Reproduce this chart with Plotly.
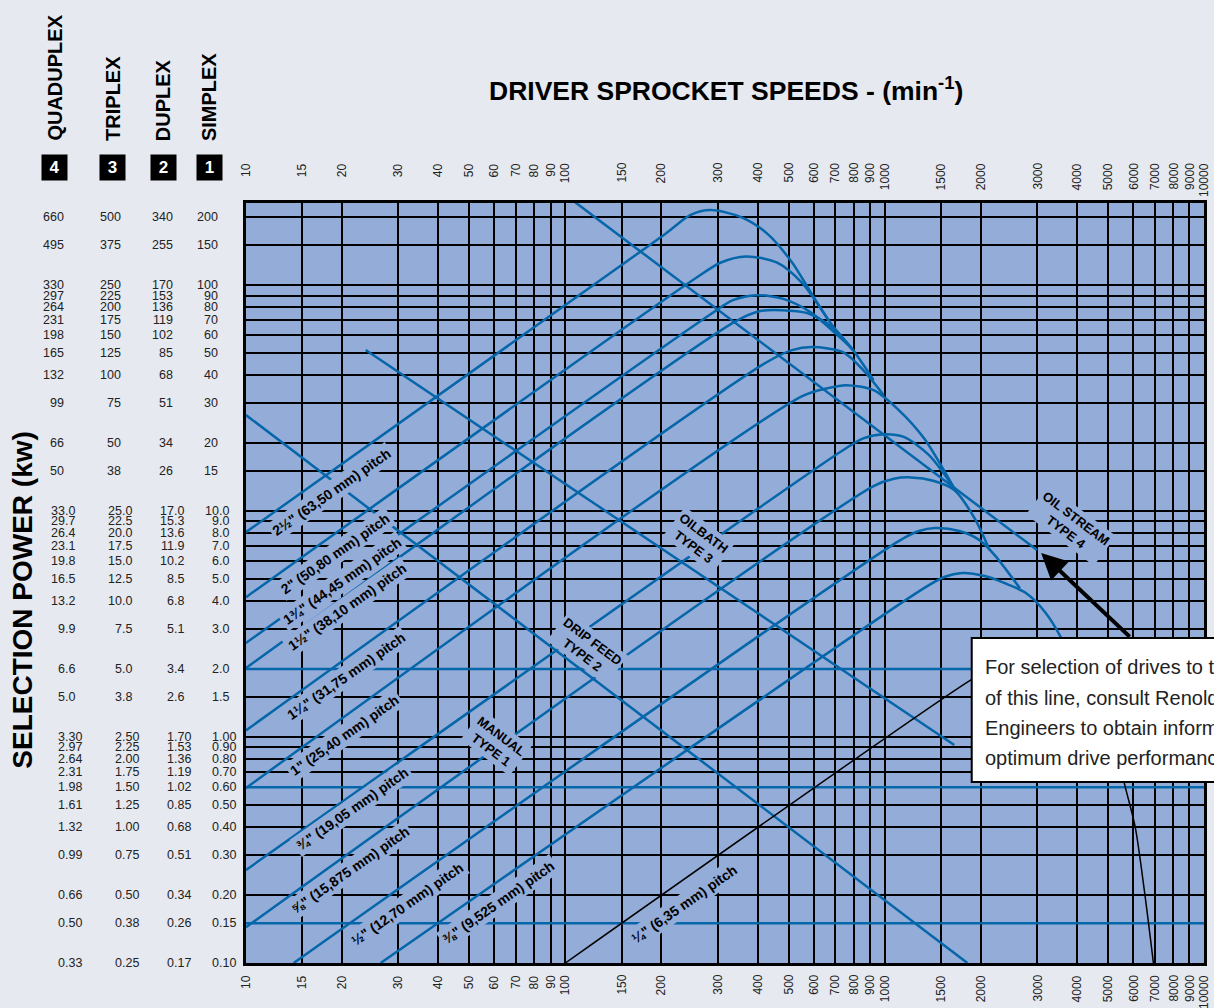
import math
import plotly.graph_objects as go

# ---- values ----
speed_ticks = [10, 15, 20, 30, 40, 50, 60, 70, 80, 90,
               100, 150, 200, 300, 400, 500, 600, 700, 800, 900,
               1000, 1500, 2000, 3000, 4000, 5000, 6000, 7000, 8000, 9000, 10000]
power_ticks = [200, 150, 100, 90, 80, 70, 60, 50, 40, 30, 20, 15, 10, 9, 8, 7, 6, 5, 4, 3, 2, 1.5,
               1, 0.9, 0.8, 0.7, 0.6, 0.5, 0.4, 0.3, 0.2, 0.15, 0.1]

simplex_lbl = ["200", "150", "100", "90", "80", "70", "60", "50", "40", "30", "20", "15",
               "10.0", "9.0", "8.0", "7.0", "6.0", "5.0", "4.0", "3.0", "2.0", "1.5",
               "1.00", "0.90", "0.80", "0.70", "0.60", "0.50", "0.40", "0.30", "0.20", "0.15", "0.10"]
duplex_lbl = ["340", "255", "170", "153", "136", "119", "102", "85", "68", "51", "34", "26",
              "17.0", "15.3", "13.6", "11.9", "10.2", "8.5", "6.8", "5.1", "3.4", "2.6",
              "1.70", "1.53", "1.36", "1.19", "1.02", "0.85", "0.68", "0.51", "0.34", "0.26", "0.17"]
triplex_lbl = ["500", "375", "250", "225", "200", "175", "150", "125", "100", "75", "50", "38",
               "25.0", "22.5", "20.0", "17.5", "15.0", "12.5", "10.0", "7.5", "5.0", "3.8",
               "2.50", "2.25", "2.00", "1.75", "1.50", "1.25", "1.00", "0.75", "0.50", "0.38", "0.25"]
quaduplex_lbl = ["660", "495", "330", "297", "264", "231", "198", "165", "132", "99", "66", "50",
                 "33.0", "29.7", "26.4", "23.1", "19.8", "16.5", "13.2", "9.9", "6.6", "5.0",
                 "3.30", "2.97", "2.64", "2.31", "1.98", "1.61", "1.32", "0.99", "0.66", "0.50", "0.33"]

# rating curves: driver speed (min-1) vs simplex selection power (kW)
rpm_250 = [10, 205, 246, 285, 355, 427, 513, 594, 673]
kw_250 = [8.07, 168, 204, 215, 200, 170, 126, 90.3, 68.6]
rpm_200 = [10, 255, 307, 368, 459, 552, 688, 796, 923]
kw_200 = [4.16, 107, 126, 134, 126, 102, 65.9, 51.6, 38.0]
rpm_175 = [10, 285, 335, 397, 484, 585, 740, 796]
kw_175 = [2.61, 74.4, 85.8, 90.3, 86.7, 76.0, 57.1, 51.6]
rpm_150 = [10, 342, 405, 476, 572, 678, 796]
kw_150 = [2.02, 69.3, 76.7, 77.5, 75.2, 65.9, 51.6]
rpm_125 = [10, 427, 513, 594, 740, 857, 993]
kw_125 = [1.07, 45.6, 51.6, 53.2, 50.5, 42.1, 32.6]
rpm_100 = [10, 552, 663, 757, 923, 1107, 1328, 1652]
kw_100 = [0.595, 32.3, 35.0, 36.1, 34.3, 28.0, 21.0, 12.6]
rpm_075 = [10, 740, 857, 993, 1148, 1377, 1652]
kw_075 = [0.258, 18.6, 21.0, 21.9, 21.3, 17.7, 12.6]
rpm_0625 = [10, 923, 1068, 1208, 1428, 1652, 1911, 2131]
kw_0625 = [0.144, 12.9, 13.9, 14.1, 13.6, 12.4, 9.31, 6.72]
rpm_050 = [14.1, 1107, 1281, 1439, 1713, 1982, 2210, 2651]
kw_050 = [0.1, 7.37, 8.16, 8.41, 8.16, 7.44, 6.39, 4.56]
rpm_0375 = [26.4, 1328, 1536, 1751, 2055, 2377, 2769, 3181, 3574, 3958, 4258]
kw_0375 = [0.1, 4.56, 5.11, 5.32, 5.16, 4.80, 4.34, 3.57, 2.74, 1.98, 1.32]
rpm_025 = [100, 1816, 2377, 3181, 4107, 4927, 5619, 6088, 6502, 6944]
kw_025 = [0.1, 1.75, 2.19, 2.43, 2.08, 1.46, 0.632, 0.400, 0.210, 0.1]

# lubrication boundaries
rpm_manual_drip = [10, 1816]
kw_manual_drip = [26.6, 0.1]
rpm_drip_bath = [23.7, 1652]
kw_drip_bath = [51.6, 0.922]
rpm_bath_stream = [100, 3000]
kw_bath_stream = [251, 6.72]

# highlighted power levels
blue_levels = [2.0, 0.6, 0.15]

pitch_text = ['2½" (63,50 mm) pitch', '2" (50,80 mm) pitch', '1¾" (44,45 mm) pitch',
              '1½" (38,10 mm) pitch', '1¼" (31,75 mm) pitch', '1" (25,40 mm) pitch',
              '¾" (19,05 mm) pitch', '⅝" (15,875 mm) pitch', '½" (12,70 mm) pitch',
              '⅜" (9,525 mm) pitch', '¼" (6,35 mm) pitch']
pitch_label_pos = [(18.5, 12.2), (19.0, 6.45), (20.0, 4.90), (20.7, 3.76), (20.6, 1.86),
                   (20.4, 1.02), (21.5, 0.48), (21.2, 0.258), (32.0, 0.182), (61.9, 0.186),
                   (236, 0.182)]
lube_text = ["MANUAL<br>TYPE 1", "DRIP FEED<br>TYPE 2", "OILBATH<br>TYPE 3", "OIL STREAM<br>TYPE 4"]
lube_label_pos = [(60.7, 0.94), (117, 2.48), (261, 7.43), (3820, 8.67)]

# ---- styling ----
PAGE_BG = "#e6e9f0"
PLOT_BG = "#94acd8"
BLUE = "#0566a9"
FONT = "Liberation Sans, Arial, Helvetica, sans-serif"
L, R, T, B = 246, 1207, 203, 963


def px_x(p):
    return (p - L) / (R - L)


def px_y(p):
    return (B - p) / (B - T)


fig = go.Figure()

for lvl in blue_levels:
    fig.add_trace(go.Scatter(x=[10, 10000], y=[lvl, lvl], mode="lines",
                             line=dict(color=BLUE, width=2.5), hoverinfo="skip"))

for xs, ys in [(rpm_manual_drip, kw_manual_drip), (rpm_drip_bath, kw_drip_bath),
               (rpm_bath_stream, kw_bath_stream)]:
    fig.add_trace(go.Scatter(x=xs, y=ys, mode="lines",
                             line=dict(color=BLUE, width=2.5), hoverinfo="skip"))

curves = [(rpm_250, kw_250), (rpm_200, kw_200), (rpm_175, kw_175), (rpm_150, kw_150),
          (rpm_125, kw_125), (rpm_100, kw_100), (rpm_075, kw_075), (rpm_0625, kw_0625),
          (rpm_050, kw_050), (rpm_0375, kw_0375)]
for xs, ys in curves:
    fig.add_trace(go.Scatter(x=xs, y=ys, mode="lines",
                             line=dict(color=BLUE, width=2.5, shape="spline", smoothing=0.8),
                             hoverinfo="skip"))
fig.add_trace(go.Scatter(x=rpm_025, y=kw_025, mode="lines",
                         line=dict(color="black", width=1.5, shape="spline", smoothing=0.8),
                         hoverinfo="skip"))

ann = []

# pitch labels along the rising lines
for txt, (sx, sy) in zip(pitch_text, pitch_label_pos):
    ann.append(dict(x=math.log10(sx), y=math.log10(sy), xref="x", yref="y", text=txt,
                    showarrow=False, textangle=-35, bgcolor=PLOT_BG, borderpad=2,
                    font=dict(family=FONT, size=14, color="black", weight="bold")))

# lubrication labels
for txt, (sx, sy) in zip(lube_text, lube_label_pos):
    ann.append(dict(x=math.log10(sx), y=math.log10(sy), xref="x", yref="y", text=txt,
                    showarrow=False, textangle=37, bgcolor=PLOT_BG, borderpad=2, align="center",
                    font=dict(family=FONT, size=13, color="black", weight="bold")))

# speed labels top and bottom
for v in speed_ticks:
    for yp in (px_y(163), px_y(975)):
        ann.append(dict(x=math.log10(v), y=yp, xref="x", yref="paper", text=str(v),
                        showarrow=False, textangle=-90, xanchor="center", yanchor="top",
                        borderpad=0, borderwidth=0,
                        font=dict(family=FONT, size=12, color="#222")))

# power label columns
columns = [(quaduplex_lbl, 63), (triplex_lbl, 121), (duplex_lbl, 173), (simplex_lbl, 218)]
for labels, base in columns:
    for v, txt in zip(power_ticks, labels):
        dec = len(txt.split(".")[1]) if "." in txt else 0
        right = base + (0, 11, 18)[dec]
        ann.append(dict(x=px_x(right), y=math.log10(v), xref="paper", yref="y", text=txt,
                        showarrow=False, xanchor="right", yanchor="middle",
                        borderpad=0, borderwidth=0,
                        font=dict(family=FONT, size=12.5, color="#222")))

# strand headers and number boxes
for name, num, cx in [("QUADUPLEX", "4", 54), ("TRIPLEX", "3", 112),
                      ("DUPLEX", "2", 163), ("SIMPLEX", "1", 209)]:
    ann.append(dict(x=px_x(cx), y=px_y(143), xref="paper", yref="paper", text=name,
                    showarrow=False, textangle=-90, xanchor="center", yanchor="bottom",
                    font=dict(family=FONT, size=20, color="black", weight="bold")))
    ann.append(dict(x=px_x(cx), y=px_y(167.5), xref="paper", yref="paper", text=num,
                    showarrow=False, bgcolor="black", width=25, height=25, borderpad=0,
                    xanchor="center", yanchor="middle",
                    font=dict(family=FONT, size=17, color="white", weight="bold")))

ann.append(dict(x=px_x(21), y=px_y(600), xref="paper", yref="paper",
                text="SELECTION POWER (kw)", showarrow=False, textangle=-90,
                xanchor="center", yanchor="middle",
                font=dict(family=FONT, size=28, color="black", weight="bold")))
ann.append(dict(x=px_x(728), y=px_y(89), xref="paper", yref="paper",
                text="DRIVER SPROCKET SPEEDS - (min<sup>-1</sup>)", showarrow=False,
                xanchor="center", yanchor="middle",
                font=dict(family=FONT, size=26.5, color="black", weight="bold")))

# note box text
note_lines = ["For selection of drives to the right", "of this line, consult Renold Application",
              "Engineers to obtain information on", "optimum drive performance."]
for line, yy in zip(note_lines, [667, 698, 728, 758]):
    ann.append(dict(x=px_x(985), y=px_y(yy), xref="paper", yref="paper", text=line,
                    showarrow=False, xanchor="left", yanchor="middle",
                    font=dict(family=FONT, size=20, color="#222")))

# arrow to the oil stream boundary
ann.append(dict(x=math.log10(3090), y=math.log10(6.52), xref="x", yref="y", text="",
                showarrow=True, ax=90, ay=85, arrowhead=2, arrowwidth=4, arrowsize=1.3,
                arrowcolor="black"))

fig.update_layout(
    width=1214, height=1008,
    margin=dict(l=L, r=1214 - R, t=T, b=1008 - B),
    paper_bgcolor=PAGE_BG, plot_bgcolor=PLOT_BG,
    showlegend=False,
    xaxis=dict(type="log", range=[1, 4], tickvals=speed_ticks, showticklabels=False, ticks="",
               showgrid=True, gridcolor="black", gridwidth=2, zeroline=False,
               showline=True, linecolor="black", linewidth=3, mirror=True),
    yaxis=dict(type="log", range=[-1, math.log10(231)], tickvals=power_ticks,
               showticklabels=False, ticks="", showgrid=True, gridcolor="black", gridwidth=2,
               zeroline=False, showline=True, linecolor="black", linewidth=3, mirror=True),
    shapes=[dict(type="rect", xref="paper", yref="paper", x0=px_x(974), x1=1.1,
                 y0=px_y(782), y1=px_y(638), fillcolor="white",
                 line=dict(color="black", width=2), layer="above")],
    annotations=ann,
)

fig.write_html("out.html", config={"displayModeBar": False},
               post_script="document.body.style.margin='0px';"
                           "document.body.style.backgroundColor='#e6e9f0';")
